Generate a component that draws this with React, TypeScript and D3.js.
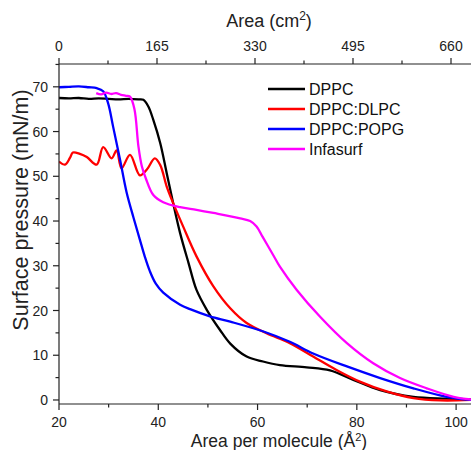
import React, { useEffect, useRef } from "react";
import * as d3 from "d3";

// Isotherms: [area per molecule (Å²), surface pressure (mN/m)]
const dppc: [number, number][] = [
  [20, 67.5], [22, 67.4], [24, 67.5], [26, 67.3], [28, 67.4], [30, 67.3], [32, 67.2],
  [34, 67.3], [36, 67.2], [37, 67.1], [38, 65.6], [39, 62.6], [40.4, 57.4], [41.7, 50.7],
  [43, 44], [44.4, 37.3], [46.1, 30.6], [47.7, 24.6], [49.8, 20.1], [52.4, 15.7],
  [54.5, 12.6], [57.8, 9.7], [61.1, 8.6], [64.5, 7.8], [69.9, 7.3], [74.6, 6.6],
  [79.3, 4.5], [84.7, 2.2], [91.4, 0.7], [98.1, 0.3], [103, 0.1],
];

const dlpc: [number, number][] = [
  [20, 53.3], [21.2, 52.6], [22.2, 54.1], [22.8, 55.3], [24.2, 55], [25.6, 54.3],
  [27.6, 52.6], [28.9, 56.5], [30.6, 54], [31.6, 55.8], [32.6, 51.8], [34.3, 54.8],
  [36.3, 50.2], [37.7, 51.5], [39.3, 54], [40.4, 52.5], [41.7, 47.7], [43, 44],
  [45, 38.8], [47.7, 32.1], [51.1, 25.4], [54.5, 20.5], [57.8, 17.2], [61.8, 14.9],
  [66.5, 12.7], [71.2, 9.7], [75.9, 6.7], [80.6, 4.1], [86, 1.9], [91.4, 0.4],
  [96.8, -0.1], [103, 0],
];

const popg: [number, number][] = [
  [20, 69.9], [22, 70.0], [24, 70.1], [26, 69.9], [27.6, 69.7], [28.9, 69.0],
  [29.9, 66.3], [30.9, 61.1], [32.3, 53.7], [33.6, 46.5], [35, 40.8], [36.3, 35.8],
  [37.3, 32.0], [38.3, 28.8], [39.5, 26.0], [41, 24.0], [44.4, 21.3], [46.4, 20.3],
  [50.4, 18.7], [54.5, 17.5], [61.2, 15.3], [66.5, 13], [71.2, 10.4], [78, 7.5],
  [84.7, 4.9], [91.4, 2.6], [98.1, 0.7], [103, 0],
];

const infasurf: [number, number][] = [
  [27.5, 68.6], [28.5, 68.3], [29.5, 68.7], [30.5, 68.4], [31.5, 68.6], [32.5, 68.2],
  [33.5, 68.0], [34.3, 67.8], [35.2, 65], [36, 56.7], [36.7, 52.2], [37.5, 49.5],
  [39, 45.8], [41, 44.2], [44.4, 43.1], [47.7, 42.5], [51.1, 41.8], [56.5, 40.6],
  [58.5, 40], [59.8, 38.8], [61, 36.5], [63.2, 32.3], [64.5, 29.8], [67.9, 24.6],
  [72.6, 18.6], [78, 12.7], [83.3, 8.2], [88.7, 4.9], [94.1, 2.6], [99.5, 0.7],
  [103, 0.1],
];

const seriesNames = ["DPPC", "DPPC:DLPC", "DPPC:POPG", "Infasurf"];
const seriesColors = ["#000000", "#ff0000", "#0000ff", "#ff00ff"];
const seriesData = [dppc, dlpc, popg, infasurf];

const xTicks = [20, 40, 60, 80, 100];
const xMinor = [30, 50, 70, 90];
const yTicks = [0, 10, 20, 30, 40, 50, 60, 70];
const yMinor = [5, 15, 25, 35, 45, 55, 65, 75];
const topTicks = [0, 165, 330, 495, 660];
const topMinor = [82.5, 247.5, 412.5, 577.5];

const W = 471;
const H = 450;
const FONT = "'Liberation Sans', Arial, sans-serif";

export default function App() {
  const ref = useRef<SVGSVGElement>(null);

  useEffect(() => {
    const svg = d3.select(ref.current);
    svg.selectAll("*").remove();

    const left = 59, right = 471, top = 64, bottom = 404;
    const x = d3.scaleLinear().domain([20, 103]).range([left, right]);
    const y = d3.scaleLinear().domain([-0.9, 75.1]).range([bottom, top]);
    const xTop = d3.scaleLinear().domain([0, 660]).range([59, 451]);
    const axisColor = "#222";

    svg.append("defs").append("clipPath").attr("id", "plot-clip")
      .append("rect").attr("x", left).attr("y", top).attr("width", right - left).attr("height", bottom - top);

    // curves
    const line = d3.line<[number, number]>()
      .x(d => x(d[0]))
      .y(d => y(d[1]))
      .curve(d3.curveCatmullRom.alpha(0.5));

    const plot = svg.append("g").attr("clip-path", "url(#plot-clip)");
    seriesData.forEach((data, i) => {
      plot.append("path")
        .datum(data)
        .attr("d", line)
        .attr("fill", "none")
        .attr("stroke", seriesColors[i])
        .attr("stroke-width", 2.3)
        .attr("stroke-linejoin", "round");
    });

    // axes lines
    const ax = svg.append("g").attr("stroke", axisColor).attr("stroke-width", 1.2);
    ax.append("line").attr("x1", left).attr("x2", right).attr("y1", bottom).attr("y2", bottom);
    ax.append("line").attr("x1", left).attr("x2", right).attr("y1", top).attr("y2", top);
    ax.append("line").attr("x1", left).attr("x2", left).attr("y1", top).attr("y2", bottom);

    // bottom ticks
    xTicks.forEach(t => ax.append("line").attr("x1", x(t)).attr("x2", x(t)).attr("y1", bottom).attr("y2", bottom + 6));
    xMinor.forEach(t => ax.append("line").attr("x1", x(t)).attr("x2", x(t)).attr("y1", bottom).attr("y2", bottom + 3.5));
    // top ticks
    topTicks.forEach(t => ax.append("line").attr("x1", xTop(t)).attr("x2", xTop(t)).attr("y1", top).attr("y2", top - 6));
    topMinor.forEach(t => ax.append("line").attr("x1", xTop(t)).attr("x2", xTop(t)).attr("y1", top).attr("y2", top - 3.5));
    // left ticks
    yTicks.forEach(t => ax.append("line").attr("x1", left - 6).attr("x2", left).attr("y1", y(t)).attr("y2", y(t)));
    yMinor.forEach(t => ax.append("line").attr("x1", left - 3.5).attr("x2", left).attr("y1", y(t)).attr("y2", y(t)));

    const txt = svg.append("g").attr("font-family", FONT).attr("fill", "#222");

    xTicks.forEach(t => txt.append("text").attr("x", x(t)).attr("y", 427)
      .attr("text-anchor", "middle").attr("font-size", 14).text(t));
    topTicks.forEach(t => txt.append("text").attr("x", xTop(t)).attr("y", 51)
      .attr("text-anchor", "middle").attr("font-size", 14).text(t));
    yTicks.forEach(t => txt.append("text").attr("x", 48).attr("y", y(t)).attr("dy", "0.36em")
      .attr("text-anchor", "end").attr("font-size", 14).text(t));

    // axis titles
    const bt = txt.append("text").attr("x", 279).attr("y", 447).attr("text-anchor", "middle").attr("font-size", 17.5);
    bt.append("tspan").text("Area per molecule (Å");
    bt.append("tspan").attr("font-size", 11).attr("dy", -6).text("2");
    bt.append("tspan").attr("dy", 6).text(")");

    const tt = txt.append("text").attr("x", 269).attr("y", 27).attr("text-anchor", "middle").attr("font-size", 18);
    tt.append("tspan").text("Area (cm");
    tt.append("tspan").attr("font-size", 12).attr("dy", -7).text("2");
    tt.append("tspan").attr("dy", 7).text(")");

    txt.append("text")
      .attr("transform", "translate(28,210) rotate(-90)")
      .attr("text-anchor", "middle").attr("font-size", 21.5)
      .text("Surface pressure (mN/m)");

    // legend
    const lg = svg.append("g");
    seriesNames.forEach((name, i) => {
      const ly = 89 + i * 20;
      lg.append("line").attr("x1", 268).attr("x2", 305).attr("y1", ly).attr("y2", ly)
        .attr("stroke", seriesColors[i]).attr("stroke-width", 2.5);
      lg.append("text").attr("x", 309).attr("y", ly).attr("dy", "0.36em")
        .attr("font-family", FONT).attr("font-size", 16).attr("fill", "#111").text(name);
    });
  }, []);

  return (
    <svg ref={ref} width={W} height={H}
      style={{ position: "absolute", left: 0, top: 0, background: "#fff", display: "block" }} />
  );
}
